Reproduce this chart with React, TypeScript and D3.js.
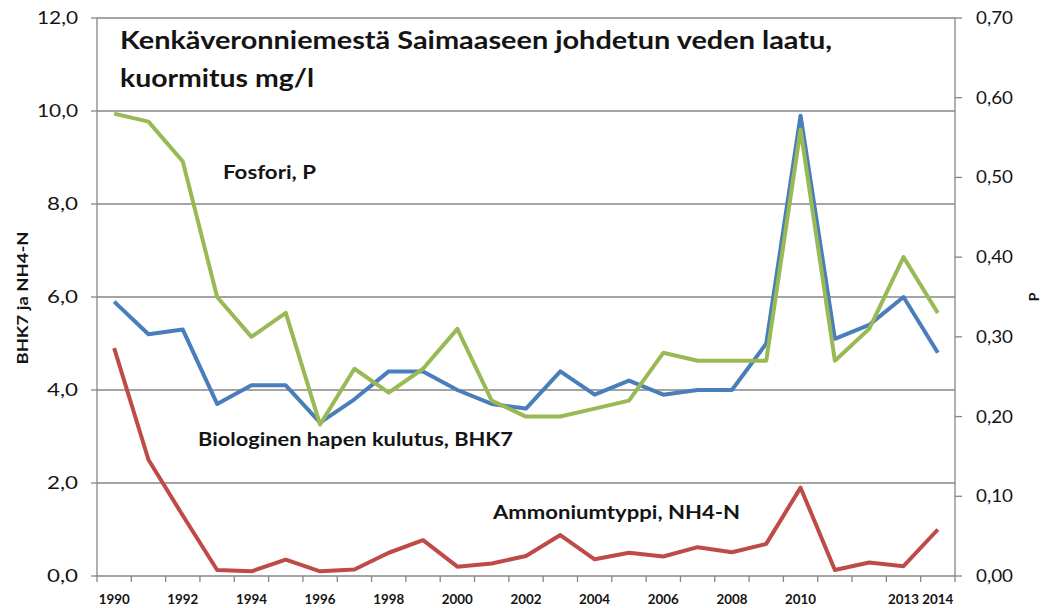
import React from "react";
import * as d3 from "d3";

const years = d3.range(1990, 2015).map(String);
const xLabels = ["1990","","1992","","1994","","1996","","1998","","2000","","2002","","2004","","2006","","2008","","2010","","","2013","2014"];
const bhk7 = [5.9,5.2,5.3,3.7,4.1,4.1,3.3,3.8,4.4,4.4,4.0,3.7,3.6,4.4,3.9,4.2,3.9,4.0,4.0,5.0,9.9,5.1,5.4,6.0,4.8];
const nh4 = [4.9,2.5,1.3,0.13,0.1,0.35,0.1,0.14,0.5,0.77,0.2,0.27,0.43,0.88,0.36,0.5,0.42,0.62,0.51,0.69,1.9,0.13,0.29,0.21,1.0];
const fosfori = [0.58,0.57,0.52,0.35,0.30,0.33,0.19,0.26,0.23,0.26,0.31,0.22,0.20,0.20,0.21,0.22,0.28,0.27,0.27,0.27,0.56,0.27,0.31,0.40,0.33];
const leftTicks = [0,2,4,6,8,10,12];
const rightTicks = [0,0.1,0.2,0.3,0.4,0.5,0.6,0.7];

const W = 1043, H = 608;
const L = 97, R = 955, T = 18, B = 576;
const FONT = "Lato, 'Open Sans', sans-serif";
const TXT = "#141414";
const AX = "#868686";
const ADJ = "spacingAndGlyphs";

export default function App() {
  const x = d3.scaleBand().domain(years).range([L, R]);
  const yL = d3.scaleLinear().domain([0, 12]).range([B, T]);
  const yR = d3.scaleLinear().domain([0, 0.7]).range([B, T]);
  const cx = (i: number) => (x(years[i]) as number) + x.bandwidth() / 2;
  const lineL = d3.line<number>().x((_, i) => cx(i)).y((d) => yL(d));
  const lineR = d3.line<number>().x((_, i) => cx(i)).y((d) => yR(d));
  const fmt = (v: number, n: number) => v.toFixed(n).replace(".", ",");
  const boundaries = d3.range(0, years.length + 1).map((i) => L + i * x.step());

  return (
    <svg width={W} height={H} style={{ position: "absolute", left: 0, top: 0, background: "#fff" }} fontFamily={FONT}>
      {leftTicks.map((t) => (
        <line key={"g" + t} x1={L} x2={R} y1={yL(t)} y2={yL(t)} stroke={AX} strokeWidth={1.3} />
      ))}
      <line x1={L} x2={L} y1={T} y2={B} stroke={AX} strokeWidth={1.3} />
      <line x1={R} x2={R} y1={T} y2={B} stroke={AX} strokeWidth={1.3} />
      {leftTicks.map((t) => (
        <g key={"l" + t}>
          <line x1={L - 6} x2={L} y1={yL(t)} y2={yL(t)} stroke={AX} strokeWidth={1.3} />
          <text x={78} y={yL(t) + 6} textAnchor="end" fontSize={17} fill={TXT} textLength={t >= 10 ? 41 : 31} lengthAdjust={ADJ}>{fmt(t, 1)}</text>
        </g>
      ))}
      {rightTicks.map((t) => (
        <g key={"r" + t}>
          <line x1={R} x2={R + 7} y1={yR(t)} y2={yR(t)} stroke={AX} strokeWidth={1.3} />
          <text x={976} y={yR(t) + 6} textAnchor="start" fontSize={17} fill={TXT} textLength={37} lengthAdjust={ADJ}>{fmt(t, 2)}</text>
        </g>
      ))}
      {boundaries.map((bx, i) => (
        <line key={"b" + i} x1={bx} x2={bx} y1={B} y2={B + 6} stroke={AX} strokeWidth={1.3} />
      ))}
      {xLabels.map((lab, i) => lab ? (
        <text key={"x" + i} x={cx(i)} y={604} textAnchor="middle" fontSize={12.5} fontWeight="bold" fill={TXT} textLength={31} lengthAdjust={ADJ}>{lab}</text>
      ) : null)}
      <text transform={`translate(28,${298}) rotate(-90)`} textAnchor="middle" fontSize={15} fontWeight="bold" fill={TXT} textLength={133} lengthAdjust={ADJ}>BHK7 ja NH4-N</text>
      <text transform={`translate(1039,${297}) rotate(-90)`} textAnchor="middle" fontSize={14} fontWeight="bold" fill={TXT}>P</text>

      <path d={lineL(nh4) as string} fill="none" stroke="#BE4B48" strokeWidth={4} strokeLinejoin="round" />
      <path d={lineL(bhk7) as string} fill="none" stroke="#4A7EBB" strokeWidth={4} strokeLinejoin="round" />
      <path d={lineR(fosfori) as string} fill="none" stroke="#98B954" strokeWidth={4} strokeLinejoin="round" />

      <text x={120} y={49} fontSize={24} fontWeight="bold" fill={TXT} textLength={712} lengthAdjust={ADJ}>Kenkäveronniemestä Saimaaseen johdetun veden laatu,</text>
      <text x={120} y={87} fontSize={24} fontWeight="bold" fill={TXT} textLength={194} lengthAdjust={ADJ}>kuormitus mg/l</text>
      <text x={223} y={179} fontSize={18} fontWeight="bold" fill={TXT} textLength={93} lengthAdjust={ADJ}>Fosfori, P</text>
      <text x={198} y={446} fontSize={18} fontWeight="bold" fill={TXT} textLength={315} lengthAdjust={ADJ}>Biologinen hapen kulutus, BHK7</text>
      <text x={493} y={519} fontSize={18} fontWeight="bold" fill={TXT} textLength={247} lengthAdjust={ADJ}>Ammoniumtyppi, NH4-N</text>
    </svg>
  );
}
